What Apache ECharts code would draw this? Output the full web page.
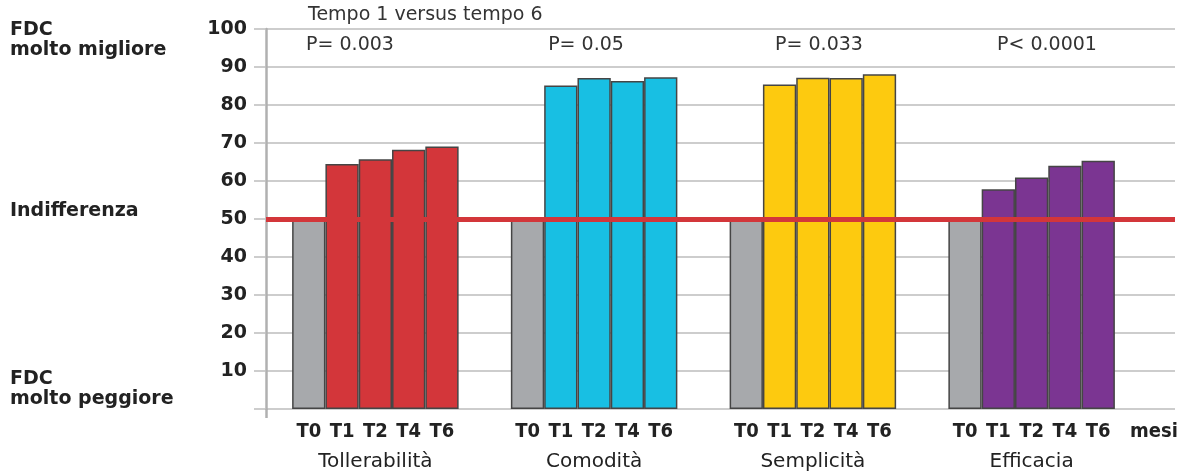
<!DOCTYPE html>
<html>
<head>
<meta charset="utf-8">
<script src="https://cdn.jsdelivr.net/npm/echarts@6/dist/echarts.min.js"></script>
<style>
html,body{margin:0;padding:0;background:#fff;}
#chart{width:1182px;height:475px;}
</style>
</head>
<body>
<div id="chart"></div>
<script>
// ---- data ----
const CATEGORIES = ['Tollerabilità', 'Comodità', 'Semplicità', 'Efficacia'];
const TIMES = ['T0', 'T1', 'T2', 'T4', 'T6'];
const T0 = [50, 50, 50, 50];
const T1 = [64.5, 85.1, 85.4, 57.8];
const T2 = [65.7, 87.1, 87.2, 60.9];
const T4 = [68.2, 86.3, 87.1, 64.0];
const T6 = [69.1, 87.3, 88.1, 65.3];
const P_VALUES = ['P= 0.003', 'P= 0.05', 'P= 0.033', 'P< 0.0001'];
const Y_TICKS = [10, 20, 30, 40, 50, 60, 70, 80, 90, 100];
const INDIFFERENCE = 50;
const TITLE = 'Tempo 1 versus tempo 6';
const UNIT = 'mesi';

// ---- style ----
const GRAY = '#a7a9ac';
const CAT_COLORS = ['#d3363a', '#18bfe3', '#fdca0f', '#7b3592'];
const GRID_COLOR = '#bdbdbd';
const AXIS_COLOR = '#b0b0b0';
const P_X = [350, 586, 819, 1047];
const NARROW = '"DejaVu Sans Condensed", "Liberation Sans Narrow", "Roboto Condensed", "Liberation Sans", sans-serif';

const chart = echarts.init(document.getElementById('chart'), null, {renderer: 'canvas'});

const seriesValues = [T0, T1, T2, T4, T6];
const barSeries = TIMES.map((t, si) => ({
  name: t,
  type: 'bar',
  xAxisIndex: 1,
  yAxisIndex: 1,
  barWidth: 33.3,
  barGap: '0%',
  z: 2,
  data: seriesValues[si],
  itemStyle: {
    color: si === 0 ? GRAY : (p => CAT_COLORS[p.dataIndex]),
    borderColor: '#454545',
    borderWidth: 1.5
  }
}));

const tRich = '{t|' + TIMES.join('}{t|') + '}';

const leftFont = 'bold 19px "DejaVu Sans"';
const option = {
  animation: false,
  grid: [
    {left: 266, right: 7, top: 29, bottom: 66},
    {left: 266, width: 875, top: 29, bottom: 66}
  ],
  xAxis: [
    {
      gridIndex: 0, type: 'value', min: 0, max: 1,
      axisLine: {show: false},
      splitLine: {show: false},
      axisLabel: {show: false},
      axisTick: {show: true, customValues: [0], length: 9, lineStyle: {color: AXIS_COLOR, width: 2.5}}
    },
    {
      gridIndex: 1, type: 'category', data: CATEGORIES,
      axisLine: {show: false},
      axisTick: {show: false},
      name: UNIT,
      nameLocation: 'end',
      nameGap: -11,
      nameTextStyle: {
        fontFamily: NARROW, fontWeight: 'bold', fontSize: 20,
        color: '#222', verticalAlign: 'top', lineHeight: 30, padding: [8, 0, 0, 0]
      },
      axisLabel: {
        interval: 0,
        margin: 8,
        formatter: v => tRich + '\n{c|' + v + '}',
        rich: {
          t: {fontFamily: NARROW, fontWeight: 'bold', fontSize: 20, color: '#222', width: 33.3, align: 'center', lineHeight: 30},
          c: {fontFamily: '"DejaVu Sans"', fontSize: 20, color: '#222', lineHeight: 30, align: 'center'}
        }
      }
    }
  ],
  yAxis: [
    {
      gridIndex: 0, type: 'value', min: 0, max: 100, interval: 10,
      axisLine: {show: true, lineStyle: {color: AXIS_COLOR, width: 2.5}},
      axisTick: {show: true, length: 12, lineStyle: {color: GRID_COLOR, width: 1.5}},
      splitLine: {show: true, lineStyle: {color: GRID_COLOR, width: 1.5}},
      axisLabel: {
        margin: 19,
        formatter: v => (Y_TICKS.indexOf(v) >= 0 ? String(v) : ''),
        fontFamily: '"DejaVu Sans"', fontWeight: 'bold', fontSize: 19, color: '#222'
      }
    },
    {
      gridIndex: 1, type: 'value', min: 0, max: 100, show: false,
      splitLine: {show: false}
    }
  ],
  series: [
    ...barSeries,
    {
      name: 'Indifferenza',
      type: 'line',
      xAxisIndex: 0,
      yAxisIndex: 0,
      data: [],
      z: 10,
      markLine: {
        silent: true,
        z: 10,
        symbol: ['none', 'none'],
        label: {show: false},
        lineStyle: {color: '#d3363a', width: 5, type: 'solid'},
        data: [{yAxis: INDIFFERENCE}]
      }
    }
  ],
  graphic: [
    {type: 'text', left: 10, top: 20, style: {text: 'FDC\nmolto migliore', font: leftFont, lineHeight: 20, fill: '#222'}},
    {type: 'text', left: 10, top: 201, style: {text: 'Indifferenza', font: leftFont, lineHeight: 20, fill: '#222'}},
    {type: 'text', left: 10, top: 369, style: {text: 'FDC\nmolto peggiore', font: leftFont, lineHeight: 20, fill: '#222'}},
    {type: 'text', left: 308, top: 6, style: {text: TITLE, font: '19px "DejaVu Sans"', fill: '#333'}},
    ...P_VALUES.map((p, i) => ({
      type: 'text', x: P_X[i], y: 45,
      style: {text: p, font: '19px "DejaVu Sans"', fill: '#333', textAlign: 'center', textVerticalAlign: 'middle'}
    }))
  ]
};
chart.setOption(option);
</script>
</body>
</html>
